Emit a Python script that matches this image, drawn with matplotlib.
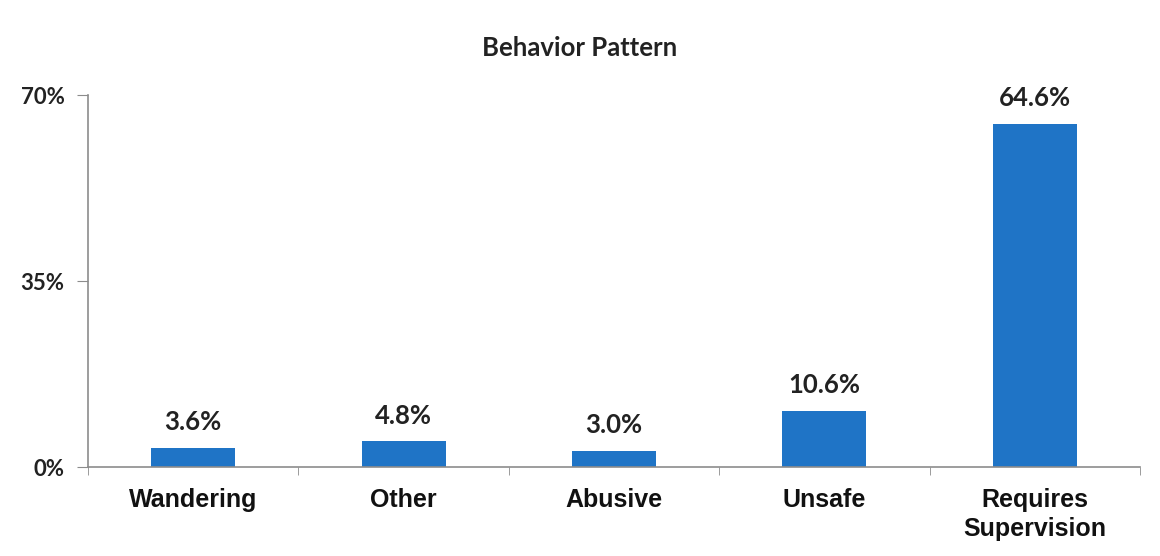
import matplotlib.pyplot as plt
import numpy as np

# データ
categories = ["Wandering", "Other", "Abusive", "Unsafe", "Requires\nSupervision"]
values = [3.6, 4.8, 3.0, 10.6, 64.6]
yticks = [0, 35, 70]

bar_color = "#1f74c6"
axis_color = "#8c8c8c"

fig = plt.figure(figsize=(11.6, 5.56), dpi=100)
ax = fig.add_axes([88 / 1160, 1 - 467 / 556, (1140 - 88) / 1160, (467 - 95) / 556])

x = np.arange(len(categories))
ax.bar(x, values, width=0.4, color=bar_color, zorder=2)

ax.set_xlim(-0.5, len(categories) - 0.5)
ax.set_ylim(0, 70)

# 軸の体裁
for s in ["top", "right"]:
    ax.spines[s].set_visible(False)
for s in ["left", "bottom"]:
    ax.spines[s].set_color(axis_color)
    ax.spines[s].set_linewidth(1.2)

ax.set_yticks(yticks)
ax.set_yticklabels([f"{v}%" for v in yticks], fontsize=16, fontweight="bold",
                   family="Lato", color="#222222")
ax.tick_params(axis="y", length=8, color=axis_color, pad=9)

ax.set_xticks(x)
ax.set_xticklabels(categories, fontsize=18, fontweight="bold",
                   family="Liberation Sans", color="#111111", linespacing=1.25)
ax.tick_params(axis="x", which="major", length=0, pad=15)
ax.set_xticks(np.arange(-0.5, len(categories)), minor=True)
ax.tick_params(axis="x", which="minor", length=6, color=axis_color)

# 値ラベル
for xi, v in zip(x, values):
    ax.annotate(f"{v:.1f}%", (xi, v), xytext=(0, 10), textcoords="offset points",
                ha="center", va="bottom", fontsize=18.5, fontweight="bold",
                family="Lato", color="#222222")

fig.text(0.5, 1 - 48 / 556, "Behavior Pattern", ha="center", va="center",
         fontsize=18.5, fontweight="bold", family="Lato", color="#222222")

fig.savefig("out.png", dpi=100)
